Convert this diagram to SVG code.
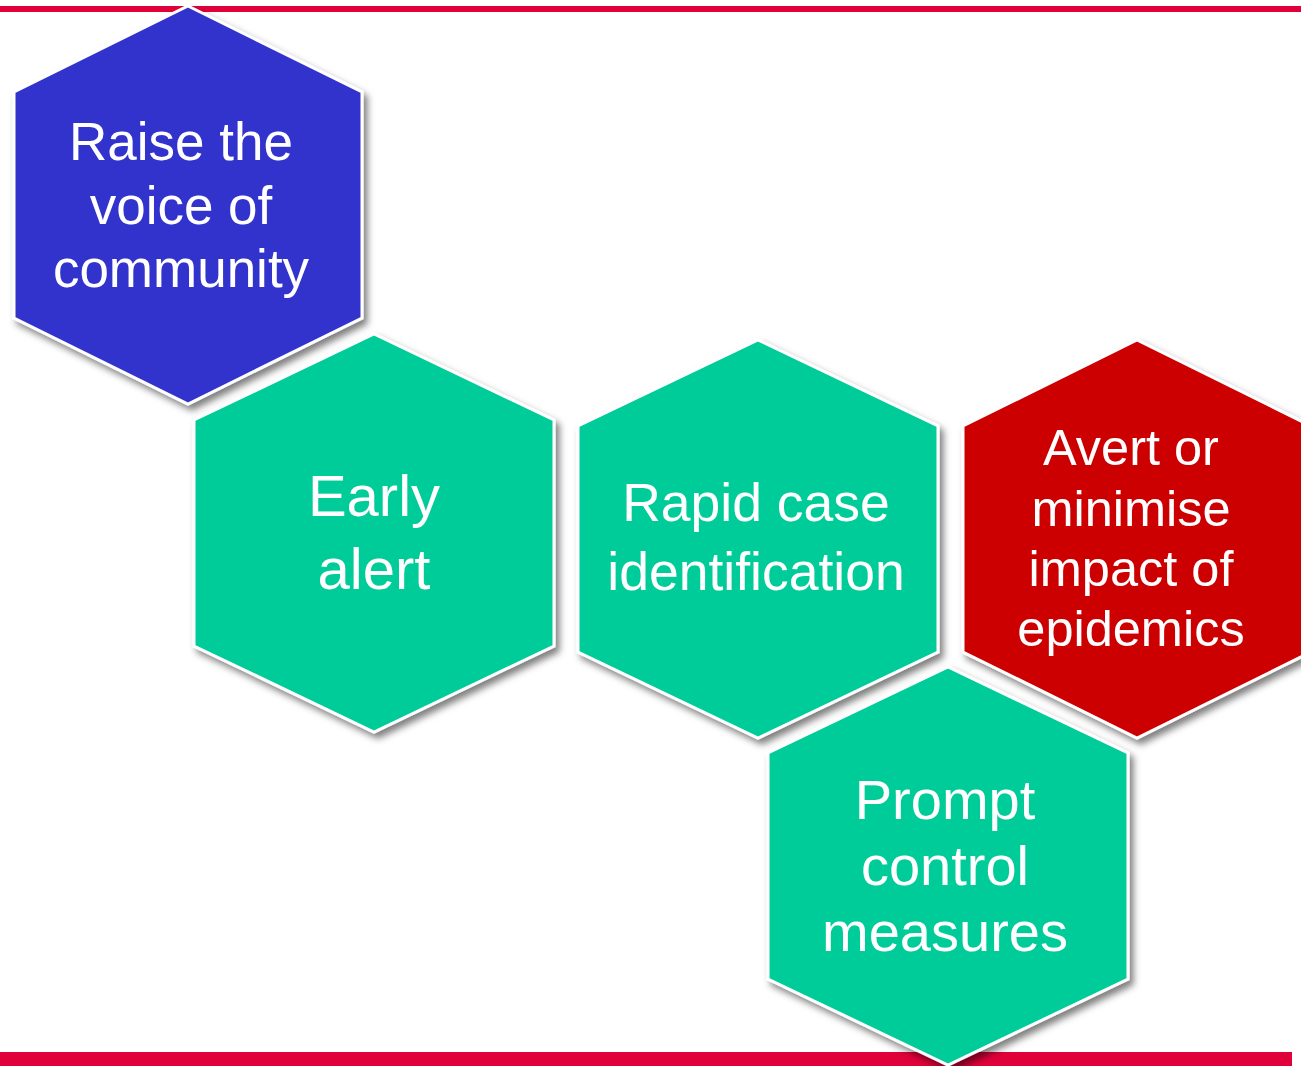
<svg xmlns="http://www.w3.org/2000/svg" width="1301" height="1066" viewBox="0 0 1301 1066">
<defs>
<filter id="sh" x="-10%" y="-10%" width="125%" height="125%">
<feDropShadow dx="4" dy="5" stdDeviation="3.5" flood-color="#000" flood-opacity="0.5"/>
</filter>
<style>
.hex{stroke:#fff;stroke-width:3;stroke-linejoin:miter;filter:url(#sh)}
.blue{fill:#3333cc}
.green{fill:#00cc99}
.red{fill:#cc0000}
.t{font-family:"Liberation Sans",Arial,sans-serif;fill:#fff;text-anchor:middle}
</style>
</defs>
<rect width="1301" height="1066" fill="#fff"/>
<rect x="0" y="6" width="1301" height="6" fill="#e0003a"/>
<rect x="0" y="1052" width="1292" height="14" fill="#e0003a"/>
<g id="connectors"></g>
<g id="raise">
<polygon class="hex blue" points="188,6 362,92 362,318 188,404 14,318 14,92"/>
<text class="t" font-size="53" x="181" y="160">Raise the</text>
<text class="t" font-size="53" x="181" y="224">voice of</text>
<text class="t" font-size="53" x="181" y="287">community</text>
</g>
<g id="early">
<polygon class="hex green" points="374,334 554,420 554,646 374,732 194,646 194,420"/>
<text class="t" font-size="58" x="374" y="516">Early</text>
<text class="t" font-size="58" x="374" y="589">alert</text>
</g>
<g id="rapid">
<polygon class="hex green" points="758,340 938,426 938,652 758,738 578,652 578,426"/>
<text class="t" font-size="53.5" x="756" y="521">Rapid case</text>
<text class="t" font-size="53.5" x="756" y="590">identification</text>
</g>
<g id="avert">
<polygon class="hex red" points="1137,340 1311,426 1311,652 1137,738 963,652 963,426"/>
<text class="t" font-size="50.5" x="1131" y="465">Avert or</text>
<text class="t" font-size="50.5" x="1131" y="526">minimise</text>
<text class="t" font-size="50.5" x="1131" y="586">impact of</text>
<text class="t" font-size="50.5" x="1131" y="646">epidemics</text>
</g>
<g id="prompt">
<polygon class="hex green" points="948,667 1128,753 1128,979 948,1065 768,979 768,753"/>
<text class="t" font-size="56" x="945" y="819">Prompt</text>
<text class="t" font-size="56" x="945" y="885">control</text>
<text class="t" font-size="56" x="945" y="951">measures</text>
</g>
</svg>
